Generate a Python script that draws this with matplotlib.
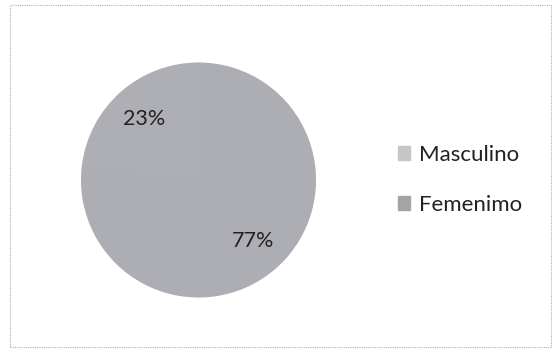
import matplotlib.pyplot as plt
from matplotlib.patches import Rectangle

# data
labels = ["Masculino", "Femenimo"]
values = [23, 77]
colors = ["#aeaeb5", "#adadb4"]
legend_colors = ["#c6c6c6", "#a4a4a4"]

plt.rcParams['font.family'] = ['Lato', 'DejaVu Sans']

W, H = 552, 354
fig = plt.figure(figsize=(W / 100, H / 100), dpi=100)
fig.patch.set_facecolor("white")

# dotted chart border
fig.patches.append(Rectangle((10 / W, 1 - 347 / H), 541 / W, 342 / H,
                             transform=fig.transFigure, fill=False,
                             edgecolor="#b0b0b0", lw=0.8, ls=(0, (1, 1))))

# pie area: center ~ (198,180), radius ~118 px
cx, cy, r = 198.5, 180, 118
ax = fig.add_axes([(cx - r) / W, 1 - (cy + r) / H, 2 * r / W, 2 * r / H])
wedges, texts, autotexts = ax.pie(
    values, colors=colors, startangle=90, counterclock=True,
    autopct="%d%%", pctdistance=0.70, radius=1.0,
    textprops=dict(fontsize=15.5, color="#222222"))
for w, c in zip(wedges, colors):
    w.set_edgecolor(c)
    w.set_linewidth(1.0)
ax.set_xlim(-1.01, 1.01)
ax.set_ylim(-1.01, 1.01)
ax.set_aspect("equal")
ax.axis("off")

handles = [Rectangle((0, 0), 1, 1, color=c) for c in legend_colors]
fig.legend(handles, labels, loc="center left",
           bbox_to_anchor=(378 / W, 1 - 180 / H), frameon=False,
           fontsize=16, handlelength=0.55, handleheight=0.55,
           handletextpad=0.4, labelspacing=1.35, labelcolor="#222222")

fig.savefig("out.png", dpi=100)
